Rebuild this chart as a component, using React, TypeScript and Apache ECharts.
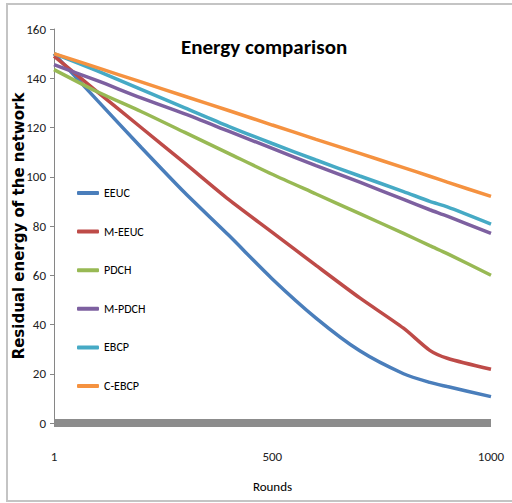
import React, { useEffect, useRef } from "react";
import * as echarts from "echarts";

const rounds = [1, 100, 200, 300, 400, 500, 600, 700, 800, 860, 900, 1000];
const eeuc = [150, 131, 112, 93.5, 76.3, 58.5, 42.6, 29.3, 20, 16.5, 14.8, 10.7];
const mEeuc = [149, 134.5, 120, 105.5, 90.8, 77.4, 64, 50.8, 38.5, 29.5, 26.3, 21.8];
const pdch = [143.5, 134.5, 126.5, 118, 109.5, 101, 93, 85, 77, 72, 68.8, 60];
const mPdch = [145.5, 139, 132, 125.5, 118.5, 111.5, 104.5, 97.8, 90.8, 86.6, 84, 77];
const ebcp = [150, 143, 135.5, 128, 120.5, 113.5, 106.8, 100.3, 94, 90, 87.8, 80.8];
const cEbcp = [150, 144.3, 138.5, 132.7, 126.9, 121, 115.2, 109.5, 103.7, 100.2, 97.8, 92];

const seriesNames = ["EEUC", "M-EEUC", "PDCH", "M-PDCH", "EBCP", "C-EBCP"];
const seriesValues = [eeuc, mEeuc, pdch, mPdch, ebcp, cEbcp];
const seriesColors = ["#4a7ebb", "#be4b48", "#98b954", "#7d60a0", "#46aac5", "#f59240"];
const xTickLabels = [1, 500, 1000];

const NARROW = "Carlito, 'Liberation Sans Narrow', Lato, sans-serif";

export default function App() {
  const ref = useRef<HTMLDivElement>(null);
  useEffect(() => {
    if (!ref.current) return;
    const chart = echarts.init(ref.current, null, { renderer: "svg" });
    chart.setOption({
      animation: false,
      backgroundColor: "#ffffff",
      title: {
        text: "Energy comparison",
        left: 176,
        top: 31,
        textStyle: { fontFamily: NARROW, fontSize: 21, fontWeight: "bold", color: "#000" },
      },
      graphic: [
        {
          type: "rect",
          shape: { x: 7, y: 4, width: 520, height: 497 },
          style: { fill: "none", stroke: "#c4c4c4", lineWidth: 2 },
          silent: true,
        },
      ],
      legend: {
        orient: "vertical",
        left: 72,
        top: 181,
        icon: "roundRect",
        itemWidth: 22,
        itemHeight: 4,
        itemGap: 24.6,
        textStyle: { fontFamily: NARROW, fontSize: 12, color: "#000", lineHeight: 14 },
        data: seriesNames,
      },
      grid: { left: 54, right: 21, top: 29, bottom: 80, outerBoundsMode: "none" },
      xAxis: {
        type: "value",
        min: 1,
        max: 1000,
        offset: 4,
        name: "Rounds",
        nameLocation: "middle",
        nameGap: 53,
        nameMoveOverlap: false,
        nameTextStyle: { fontFamily: NARROW, fontSize: 13, color: "#000" },
        axisLine: { show: true, lineStyle: { color: "#8c8c8c", width: 8, cap: "butt" } },
        axisTick: { show: false },
        splitLine: { show: false },
        axisLabel: {
          customValues: xTickLabels,
          formatter: (v: number) => String(v),
          margin: 23,
          fontFamily: NARROW,
          fontSize: 13,
          color: "#222",
        },
      },
      yAxis: {
        type: "value",
        min: 0,
        max: 160,
        interval: 20,
        name: "Residual energy of the network",
        nameLocation: "middle",
        nameRotate: 90,
        nameGap: 28,
        nameMoveOverlap: false,
        nameTextStyle: { fontFamily: "'DejaVu Sans', sans-serif", fontSize: 15, fontWeight: "bold", color: "#000" },
        axisLine: { show: true, lineStyle: { color: "#868686", width: 1 } },
        axisTick: { show: true, length: 4, lineStyle: { color: "#868686" } },
        splitLine: { show: false },
        axisLabel: { margin: 8, fontFamily: NARROW, fontSize: 13, color: "#222" },
      },
      series: seriesNames.map((name, i) => ({
        name,
        type: "line",
        data: rounds.map((r, j) => [r, seriesValues[i][j]]),
        showSymbol: false,
        symbol: "none",
        smooth: 0.25,
        lineStyle: { color: seriesColors[i], width: 3.5 },
        itemStyle: { color: seriesColors[i] },
      })),
    });
    return () => chart.dispose();
  }, []);
  return (
    <div
      ref={ref}
      style={{ position: "fixed", left: 0, top: 0, width: 512, height: 503 }}
    />
  );
}
